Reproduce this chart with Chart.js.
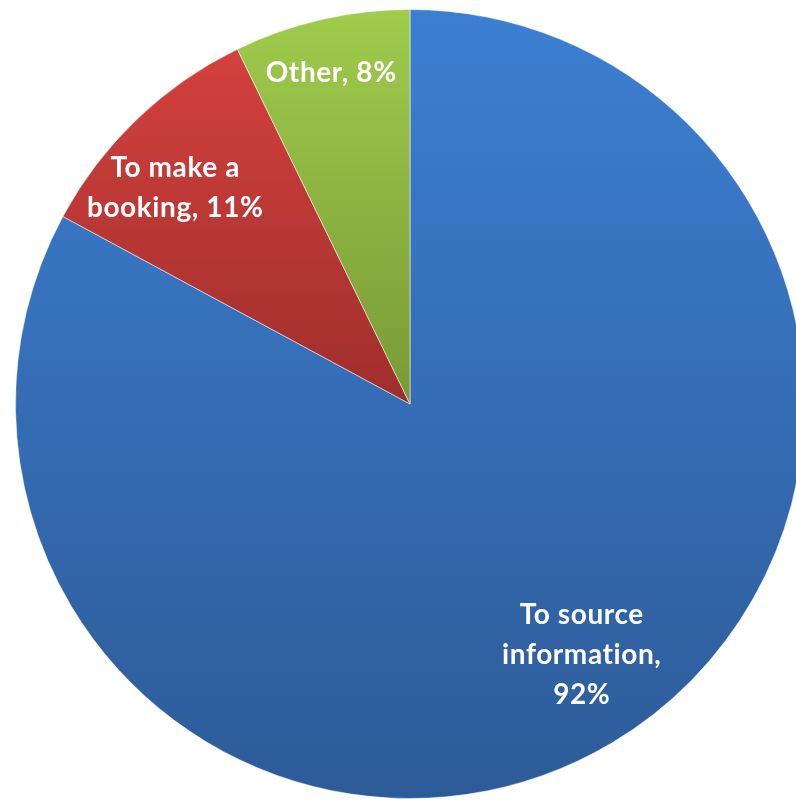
<!DOCTYPE html>
<html>
<head>
<meta charset="utf-8">
<script src="https://cdn.jsdelivr.net/npm/chart.js@4"></script>
<style>
  html, body { margin: 0; padding: 0; background: #fff; overflow: hidden; }
  #wrap { width: 796px; height: 801px; overflow: hidden; position: relative; }
  canvas { position: absolute; left: 0; top: 0; }
</style>
</head>
<body>
<div id="wrap"><canvas id="myChart" width="820" height="808"></canvas></div>
<script>
// data
const categories = ['To source information', 'To make a booking', 'Other'];
const values = [92, 11, 8];
const labelLines = [
    ['To source', 'information,', '92%'],
    ['To make a', 'booking, 11%'],
    ['Other, 8%']
];
// gradient colours per slice: [top, bottom]
const sliceColors = [
    ['#3c7fd1', '#2d5b98'],
    ['#d3413e', '#9f2e2b'],
    ['#a0cb4c', '#789a36']
];

function sliceGradient(ctx) {
    const chart = ctx.chart;
    const area = chart.chartArea;
    const i = ctx.dataIndex;
    if (!area) return sliceColors[i][0];
    const meta = chart.getDatasetMeta(0);
    const arc = meta.data[i];
    let top = area.top, bottom = area.bottom;
    if (arc && arc.outerRadius) {
        const p = arc.getProps(['x', 'y', 'startAngle', 'endAngle', 'outerRadius']);
        let minY = p.y, maxY = p.y;
        for (let k = 0; k <= 60; k++) {
            const a = p.startAngle + (p.endAngle - p.startAngle) * k / 60;
            const y = p.y + Math.sin(a) * p.outerRadius;
            minY = Math.min(minY, y); maxY = Math.max(maxY, y);
        }
        top = minY; bottom = maxY;
    }
    const g = chart.ctx.createLinearGradient(0, top, 0, bottom);
    g.addColorStop(0, sliceColors[i][0]);
    g.addColorStop(1, sliceColors[i][1]);
    return g;
}

// where each label sits, as fractions of the radius along the slice middle
const labelPlace = [[0.85, 0.74], [0.86, 0.76], [0.89, 0.86]];

const sliceLabels = {
    id: 'sliceLabels',
    afterDatasetsDraw(chart) {
        const c = chart.ctx;
        const meta = chart.getDatasetMeta(0);
        c.save();
        c.fillStyle = '#ffffff';
        c.font = 'bold 28px Lato';
        c.letterSpacing = '0.6px';   // also stops the "ti" ligature
        c.textAlign = 'center';
        c.textBaseline = 'middle';
        meta.data.forEach((arc, i) => {
            const p = arc.getProps(['x', 'y', 'startAngle', 'endAngle', 'outerRadius']);
            const mid = (p.startAngle + p.endAngle) / 2;
            const x = p.x + Math.cos(mid) * p.outerRadius * labelPlace[i][0];
            const y = p.y + Math.sin(mid) * p.outerRadius * labelPlace[i][1];
            const lines = labelLines[i];
            const lh = 40;
            lines.forEach((t, k) => {
                c.fillText(t, x, y + (k - (lines.length - 1) / 2) * lh);
            });
        });
        c.restore();
    }
};

const myChart = new Chart(document.getElementById('myChart'), {
    type: 'pie',
    data: {
        labels: categories,
        datasets: [{
            data: values,
            backgroundColor: sliceGradient,
            borderColor: 'rgba(255,255,255,0.5)',
            borderWidth: 1
        }]
    },
    options: {
        responsive: false,
        animation: false,
        layout: { padding: 9 },
        plugins: {
            legend: { display: false },
            tooltip: { enabled: false }
        }
    },
    plugins: [sliceLabels]
});
// redraw once geometry exists so the gradients follow each slice
myChart.update();
</script>
</body>
</html>
